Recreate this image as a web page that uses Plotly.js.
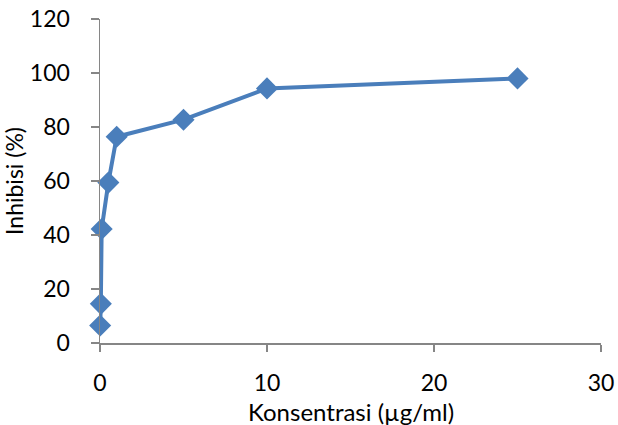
<!DOCTYPE html>
<html>
<head>
<meta charset="utf-8">
<script src="https://cdn.plot.ly/plotly-3.0.1.min.js"></script>
<style>html,body{margin:0;padding:0;background:#fff;}#chart{width:618px;height:425px;}</style>
</head>
<body>
<div id="chart"></div>
<script>
const konsentrasi = [0.01, 0.05, 0.1, 0.5, 1, 5, 10, 25];
const inhibisi = [6.5, 14.5, 42.2, 59.4, 76.4, 82.7, 94.3, 98.0];
const xTicks = [0, 10, 20, 30];
const yTicks = [0, 20, 40, 60, 80, 100, 120];
const xTitle = 'Konsentrasi (µg/ml)';
const yTitle = 'Inhibisi (%)';

const fam = 'Lato, "Open Sans", sans-serif';
const tickFont = {family: fam, size: 23, color: '#000'};

Plotly.newPlot('chart', [{
  x: konsentrasi,
  y: inhibisi,
  type: 'scatter',
  mode: 'lines+markers',
  line: {color: '#4a7ebb', width: 4},
  marker: {symbol: 'diamond', size: 17, color: '#4a7ebb'},
  cliponaxis: false,
  showlegend: false
}], {
  width: 618, height: 425,
  margin: {l: 100, r: 17, t: 19, b: 82},
  paper_bgcolor: '#fff', plot_bgcolor: '#fff',
  font: tickFont,
  xaxis: {
    range: [0, 30], tickvals: xTicks, ticktext: xTicks.map(String),
    showline: true, linecolor: '#868686', linewidth: 1.5,
    ticks: 'outside', ticklen: 7, tickcolor: '#868686', tickwidth: 1.5,
    showgrid: false, zeroline: false,
    ticklabelstandoff: 12,
    tickfont: tickFont
  },
  yaxis: {
    range: [0, 120], tickvals: yTicks, ticktext: yTicks.map(String),
    showline: true, linecolor: '#868686', linewidth: 1.5,
    ticks: 'outside', ticklen: 8, tickcolor: '#868686', tickwidth: 1.5,
    showgrid: false, zeroline: false,
    ticklabelstandoff: 16,
    tickfont: tickFont,
    title: {text: yTitle, font: {family: fam, size: 23, color: '#000'}, standoff: 1}
  },
  annotations: [{
    text: xTitle, xref: 'paper', yref: 'paper', x: 0.5, y: 0,
    xanchor: 'center', yanchor: 'middle', yshift: -68, showarrow: false,
    font: {family: fam, size: 24, color: '#000'}
  }]
}, {displayModeBar: false, staticPlot: true});
</script>
</body>
</html>
